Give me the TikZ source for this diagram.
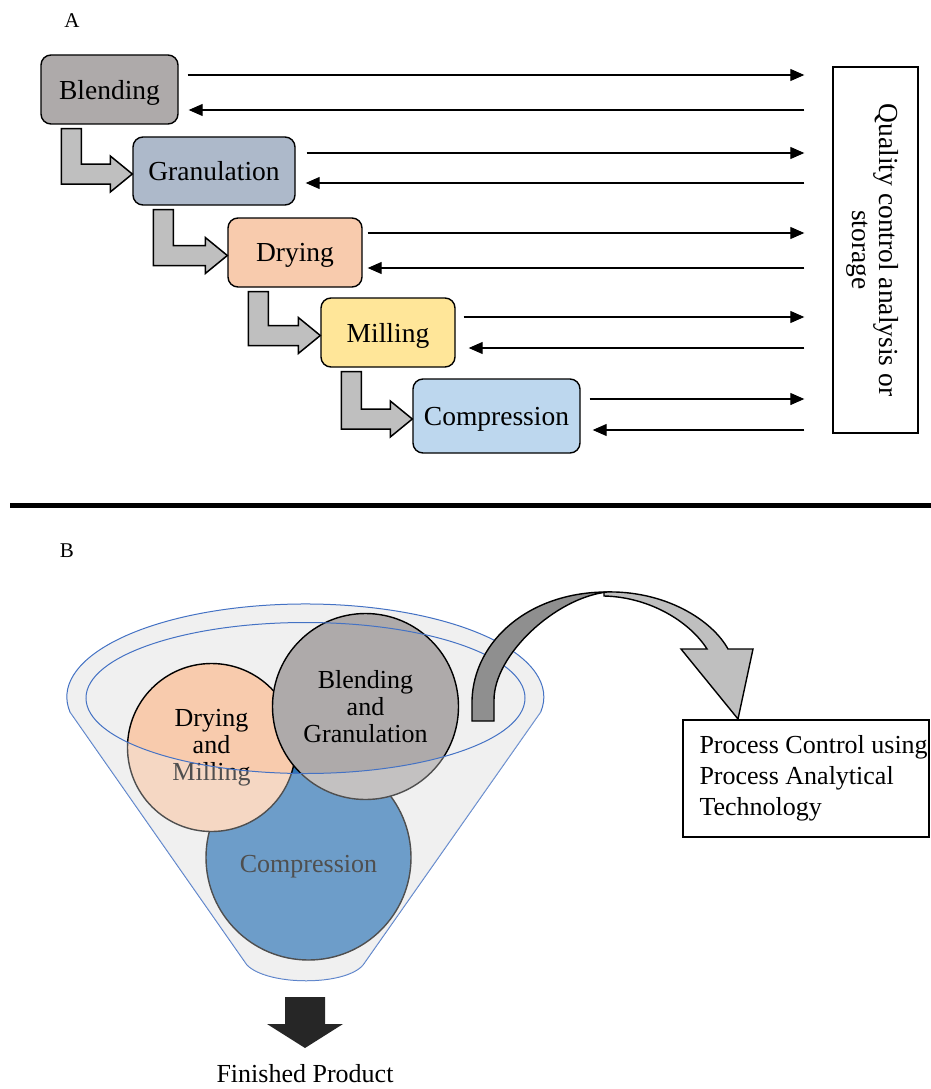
\documentclass[tikz,border=0pt]{standalone}
\usepackage{fontspec}
\setmainfont{Liberation Serif}
\usetikzlibrary{arrows.meta,calc}
\definecolor{cblend}{HTML}{AEAAAA}
\definecolor{cgran}{HTML}{ADB9CA}
\definecolor{cdry}{HTML}{F8CBAD}
\definecolor{cmill}{HTML}{FFE699}
\definecolor{ccomp}{HTML}{BDD7EE}
\definecolor{bentgray}{HTML}{BFBFBF}
\definecolor{funnelgray}{HTML}{F0F0F0}
\definecolor{funnelblue}{HTML}{4472C4}
\definecolor{ccompB}{HTML}{2E75B6}
\definecolor{arrowdark}{HTML}{8F8F8F}
\definecolor{arrowlight}{HTML}{BFBFBF}
\definecolor{darkarrow}{HTML}{262626}
\newcommand\bentarrow[2]{%
  \path[bent] let \p1=(#1.south west), \p2=(#2.west) in
    (\x1+21pt,\y1-4pt) -- (\x1+41pt,\y1-4pt) -- (\x1+41pt,\y2+7pt)
    -- (\x2-22pt,\y2+7pt) -- (\x2-22pt,\y2+15pt) -- (\x2,\y2-3pt)
    -- (\x2-22pt,\y2-21pt) -- (\x2-22pt,\y2-13pt) -- (\x1+21pt,\y2-13pt) -- cycle;}
\begin{document}
\begin{tikzpicture}[x=1pt,y=-1pt,
  every node/.style={font=\fontsize{26}{27}\selectfont, inner sep=0pt},
  stage/.style={draw=black, line width=1.4pt, rounded corners=10pt, font=\fontsize{27.5}{28}\selectfont, text depth=0pt},
  flow/.style={line width=1.2pt, -{Triangle[length=14pt,width=12pt]}},
  bent/.style={draw=black, fill=bentgray, line width=1.5pt, line join=miter},
  plainbox/.style={draw=black, line width=1.4pt, fill=white},
  ring/.style={circle, draw=black, line width=1.4pt, align=center},
  funnelline/.style={draw=funnelblue, line width=1pt},
  blockarrow/.style={draw=black, line width=1.4pt, line join=miter},
  panel/.style={font=\fontsize{21}{22}\selectfont}]
\useasboundingbox (0,0) rectangle (931,1089);

% ---------- Part A ----------
\node[panel] (labA) at (72,21) {A};

\node[stage, fill=cblend, minimum width=137pt, minimum height=69pt] (blend) at (109.5,89.5) {Blending};
\node[stage, fill=cgran, minimum width=162pt, minimum height=68pt] (gran) at (214,171) {Granulation};
\node[stage, fill=cdry, minimum width=134pt, minimum height=69pt] (dry) at (295,252.5) {Drying};
\node[stage, fill=cmill, minimum width=134pt, minimum height=69pt] (mill) at (388,332.5) {Milling};
\node[stage, fill=ccomp, minimum width=167pt, minimum height=74pt] (comp) at (496.5,416) {Compression};

\node[plainbox, minimum width=85pt, minimum height=366pt] (qc) at (875.5,250) {};
\node[rotate=-90, align=center, font=\fontsize{27.5}{27}\selectfont] (qct) at (873,250) {Quality control analysis or\\storage};

\bentarrow{blend}{gran}
\bentarrow{gran}{dry}
\bentarrow{dry}{mill}
\bentarrow{mill}{comp}

\draw[flow] ($(blend.east)+(9,-14.5)$) -- ($(qc.west |- blend.east)+(-28,-14.5)$);
\draw[flow] ($(qc.west |- blend.east)+(-28,20.5)$) -- ($(blend.east)+(10,20.5)$);
\draw[flow] ($(gran.east)+(11,-18)$) -- ($(qc.west |- gran.east)+(-28,-18)$);
\draw[flow] ($(qc.west |- gran.east)+(-28,12)$) -- ($(gran.east)+(10,12)$);
\draw[flow] ($(dry.east)+(5,-19.5)$) -- ($(qc.west |- dry.east)+(-28,-19.5)$);
\draw[flow] ($(qc.west |- dry.east)+(-28,15.5)$) -- ($(dry.east)+(5,15.5)$);
\draw[flow] ($(mill.east)+(8,-15.5)$) -- ($(qc.west |- mill.east)+(-28,-15.5)$);
\draw[flow] ($(qc.west |- mill.east)+(-28,15.5)$) -- ($(mill.east)+(13,15.5)$);
\draw[flow] ($(comp.east)+(9,-17)$) -- ($(qc.west |- comp.east)+(-28,-17)$);
\draw[flow] ($(qc.west |- comp.east)+(-28,14)$) -- ($(comp.east)+(12,14)$);

% separator
\draw[line width=5pt] (10,505.5) -- (931,505.5);

% ---------- Part B ----------
\node[panel] (labB) at (67,551) {B};

% funnel body
\path[fill=funnelgray, funnelline] (70,712) arc[start angle=170.7, end angle=369.3, x radius=238.5, y radius=93]
  -- (363,965) .. controls (345,986) and (268,986) .. (247,965) -- cycle;

% circles
\node[ring, fill=ccompB, minimum size=205pt] (ccircle) at (308.5,857.5) {};
\node (comptext) at (308.5,867) {Compression};
\node[ring, fill=cdry, minimum size=168pt] (dmcircle) at (211.5,747.5) {Drying\\and\\Milling};
\node[ring, fill=cblend, minimum size=186pt] (bgcircle) at (365.5,706.5) {Blending\\and\\Granulation};

% translucent front face of the funnel
\fill[funnelgray, fill opacity=0.33] (86,698) arc[start angle=180, end angle=0, x radius=219.5, y radius=75.5]
  -- (541,712) -- (363,965) .. controls (345,986) and (268,986) .. (247,965) -- (70,712) -- cycle;

% funnel opening
\draw[funnelline] (305.5,698) ellipse[x radius=219.5, y radius=75.5];

% curved arrow
\path[blockarrow, fill=arrowlight] (604,592) .. controls (665,590) and (712,620) .. (728,649)
  -- (753,649) -- (738,719) -- (681,649) -- (707,649)
  .. controls (690,622) and (650,597) .. (604,596) -- cycle;
\path[blockarrow, fill=arrowdark] (472,721) -- (472,700) .. controls (474,640) and (530,592) .. (607,592)
  .. controls (555,598) and (494,655) .. (494,700) -- (494,721) -- cycle;

% PAT box
\node[plainbox, minimum width=246pt, minimum height=117pt] (pat) at (806,778.5) {};
\node[anchor=west, align=left, font=\fontsize{26}{31}\selectfont] (pattext) at ($(pat.west)+(17,0)$) {Process Control using\\Process Analytical\\Technology};

% output arrow
\fill[darkarrow] (285,997) -- (325,997) -- (325,1024) -- (343,1024) -- (305,1048) -- (267,1024) -- (285,1024) -- cycle;
\node (fin) at (305,1074) {Finished Product};
\end{tikzpicture}
\end{document}
